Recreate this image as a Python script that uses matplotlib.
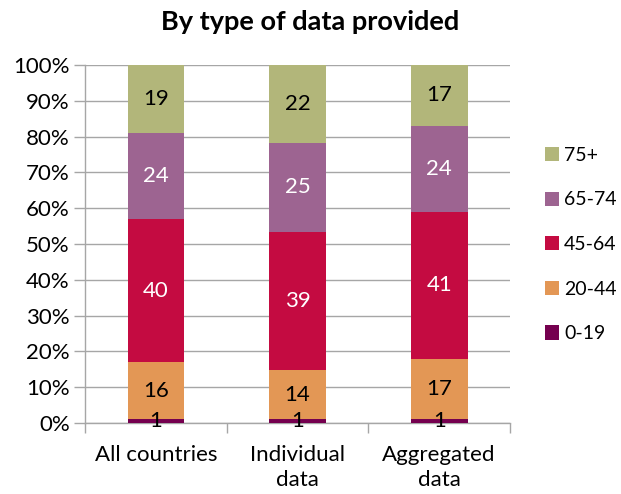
import matplotlib
matplotlib.use("Agg")
import matplotlib.pyplot as plt
import numpy as np

categories = ["All countries", "Individual\ndata", "Aggregated\ndata"]
age_groups = ["0-19", "20-44", "45-64", "65-74", "75+"]
share_0_19 = [1, 1, 1]
share_20_44 = [16, 14, 17]
share_45_64 = [40, 39, 41]
share_65_74 = [24, 25, 24]
share_75_plus = [19, 22, 17]

colors = ["#75004F", "#E39755", "#C40B41", "#9D6491", "#B2B67A"]
label_colors = ["black", "black", "white", "white", "black"]

plt.rcParams["font.family"] = ["Lato", "DejaVu Sans"]

fig = plt.figure(figsize=(6.21, 4.94), dpi=100)
ax = fig.add_axes([85 / 621, 71 / 494, 425 / 621, 358 / 494])

series = [share_0_19, share_20_44, share_45_64, share_65_74, share_75_plus]
raw = np.array(series, dtype=float)
totals = raw.sum(axis=0)
pct = raw / totals * 100

x = np.arange(len(categories))
bottom = np.zeros(len(categories))
handles = []
for i, name in enumerate(age_groups):
    bars = ax.bar(x, pct[i], 0.4, bottom=bottom, color=colors[i], label=name, zorder=3)
    handles.append(bars)
    for j in range(len(categories)):
        ax.text(x[j], bottom[j] + pct[i][j] / 2, "%d" % series[i][j],
                ha="center", va="center", fontsize=16, color=label_colors[i],
                zorder=4, clip_on=False)
    bottom += pct[i]

ax.set_xlim(-0.5, 2.5)
ax.set_ylim(0, 100)
ax.set_yticks(np.arange(0, 101, 10))
ax.set_yticklabels(["%d%%" % v for v in range(0, 101, 10)], fontsize=16)
ax.yaxis.grid(True, color="#A6A6A6", linewidth=1, zorder=0)
ax.tick_params(axis="y", length=8, color="#A6A6A6", width=1, pad=3)

ax.set_xticks(x)
ax.set_xticklabels(categories, fontsize=16, linespacing=1.3)
ax.set_xticks([-0.5, 0.5, 1.5, 2.5], minor=True)
ax.tick_params(axis="x", which="major", length=0, pad=16)
ax.tick_params(axis="x", which="minor", length=7, color="#A6A6A6", width=1)

for s in ["top", "right"]:
    ax.spines[s].set_visible(False)
for s in ["left", "bottom"]:
    ax.spines[s].set_color("#A6A6A6")
    ax.spines[s].set_linewidth(1)

fig.text(0.5, 0.955, "By type of data provided", ha="center", va="center",
         fontsize=19.5, fontweight="bold")

fig.legend(handles[::-1], age_groups[::-1], loc="center left",
           bbox_to_anchor=(0.877, 0.505), frameon=False, fontsize=14,
           handlelength=0.75, handleheight=0.75, labelspacing=1.42,
           handletextpad=0.25, borderpad=0, borderaxespad=0)

fig.savefig("out.png", dpi=100)
